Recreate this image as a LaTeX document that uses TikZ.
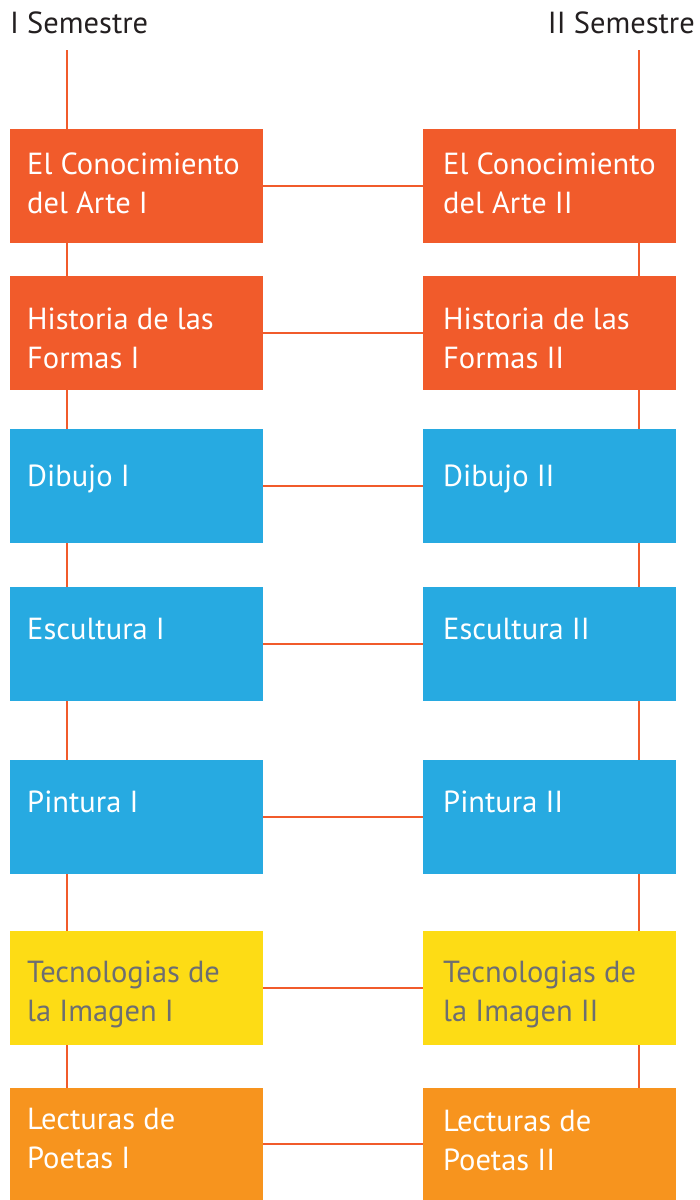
\documentclass[tikz,border=0pt]{standalone}
\usepackage{fontspec}
\setmainfont{PT Sans}
\usetikzlibrary{backgrounds}
\definecolor{cred}{HTML}{F15B2B}
\definecolor{cblue}{HTML}{27AAE1}
\definecolor{cyel}{HTML}{FDDC15}
\definecolor{corg}{HTML}{F7941E}
\definecolor{cgray}{HTML}{6D6E71}
\definecolor{ctitle}{HTML}{231F20}
\begin{document}
\begin{tikzpicture}[x=1pt,y=-1pt,
  box/.style={rectangle, inner sep=0pt, minimum width=253pt, minimum height=114pt, anchor=north west},
  lbl/.style={anchor=base west, inner sep=0pt, font=\fontsize{30.5}{38.5}\selectfont, align=left, text=white},
  ttl/.style={anchor=base west, inner sep=0pt, font=\fontsize{30.5}{34}\selectfont, text=ctitle},
  conn/.style={draw=cred, line width=2.4pt}]
\useasboundingbox (0,0) rectangle (700,1200);
% titles
\node[ttl] (t1) at (10,33) {I Semestre};
\node[ttl, anchor=base east] (t2) at (695,33) {II Semestre};
\coordinate (topL) at (67,50);
\coordinate (topR) at (639,50);
% left boxes
\node[box, fill=cred] (L1) at (10,129) {};
\node[box, fill=cred] (L2) at (10,276) {};
\node[box, fill=cblue] (L3) at (10,429) {};
\node[box, fill=cblue] (L4) at (10,587) {};
\node[box, fill=cblue] (L5) at (10,760) {};
\node[box, fill=cyel] (L6) at (10,931) {};
\node[box, fill=corg, minimum height=112pt] (L7) at (10,1088) {};
% right boxes
\node[box, fill=cred] (R1) at (423,129) {};
\node[box, fill=cred] (R2) at (423,276) {};
\node[box, fill=cblue] (R3) at (423,429) {};
\node[box, fill=cblue] (R4) at (423,587) {};
\node[box, fill=cblue] (R5) at (423,760) {};
\node[box, fill=cyel] (R6) at (423,931) {};
\node[box, fill=corg, minimum height=112pt] (R7) at (423,1088) {};
% labels left (base = last line)
\node[lbl] (tL1) at (27,213) {El Conocimiento\\del Arte I};
\node[lbl] (tL2) at (27,368) {Historia de las\\Formas I};
\node[lbl] (tL3) at (27,486) {Dibujo I};
\node[lbl] (tL4) at (27,639) {Escultura I};
\node[lbl] (tL5) at (27,812) {Pintura I};
\node[lbl, text=cgray] (tL6) at (27,1021) {Tecnologias de\\la Imagen I};
\node[lbl] (tL7) at (27,1168) {Lecturas de\\Poetas I};
% labels right
\node[lbl] (tR1) at (443,213) {El Conocimiento\\del Arte II};
\node[lbl] (tR2) at (443,368) {Historia de las\\Formas II};
\node[lbl] (tR3) at (443,486) {Dibujo II};
\node[lbl] (tR4) at (443,639) {Escultura II};
\node[lbl] (tR5) at (443,812) {Pintura II};
\node[lbl, text=cgray] (tR6) at (443,1021) {Tecnologias de\\la Imagen II};
\node[lbl] (tR7) at (443,1170) {Lecturas de\\Poetas II};
% connectors
\begin{scope}[on background layer]
\draw[conn] (topL) -- (topL |- L7.north);
\draw[conn] (topR) -- (topR |- R7.north);
\end{scope}
\foreach \i in {1,...,7} {\draw[conn] (L\i.east) -- (R\i.west);}
\end{tikzpicture}
\end{document}
